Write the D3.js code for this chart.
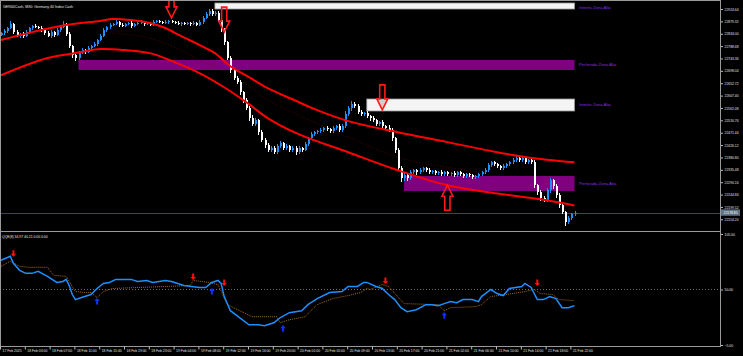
<!DOCTYPE html>
<html><head><meta charset="utf-8">
<script src="https://cdn.jsdelivr.net/npm/d3@7/dist/d3.min.js"></script>
<style>html,body{margin:0;padding:0;background:#000;overflow:hidden}svg{display:block}</style>
</head><body><svg id="c" width="743" height="356"></svg>
<script>
// ---------------- DATA ----------------
const chartTitle = "GER40Cash, M30:  Germany 40 Index Cash";
const qqeTitle = "QQE(8) 34.97 40.21 0.00 0.00";
const firstOpen = 22830;
const closes = [
22836,22844,22855,22870,22840,22826,22833,22826,22840,22855,
22862,22859,22855,22848,22837,22826,22840,22829,22848,22859,
22870,22833,22789,22756,22745,22767,22774,22767,22782,22789,
22796,22811,22826,22848,22859,22866,22870,22877,22866,22862,
22870,22873,22862,22870,22873,22877,22870,22873,22866,22877,
22881,22877,22873,22877,22881,22877,22873,22870,22873,22870,
22873,22870,22873,22866,22877,22892,22906,22917,22906,22910,
22884,22848,22804,22745,22701,22671,22657,22620,22591,22561,
22525,22503,22517,22473,22444,22426,22408,22415,22400,22422,
22433,22415,22422,22408,22415,22400,22415,22408,22429,22451,
22466,22473,22477,22481,22488,22484,22477,22488,22495,22481,
22495,22539,22561,22576,22569,22547,22539,22543,22532,22525,
22517,22503,22510,22495,22488,22481,22451,22408,22341,22304,
22315,22304,22326,22334,22326,22334,22341,22334,22326,22330,
22323,22326,22319,22326,22319,22323,22315,22326,22319,22312,
22319,22315,22308,22312,22319,22326,22334,22352,22363,22356,
22348,22341,22348,22356,22363,22370,22378,22370,22378,22363,
22370,22363,22279,22253,22231,22224,22260,22297,22275,22242,
22205,22180,22143,22158,22172,22178.85];
const upWick = [
6,8,5,9,4,7,5,6,8,4, 5,7,4,6,5,8,6,5,7,6, 9,5,6,4,8,5,7,4,6,5, 6,5,7,8,4,6,5,8,5,6,
4,5,6,4,5,6,4,5,4,6, 5,4,5,6,4,5,4,6,5,4, 5,4,6,5,6,7,9,8,6,7, 8,6,7,5,8,6,10,7,6,9,
7,10,8,6,9,7,8,6,9,7, 8,6,7,5,8,6,7,5,9,6, 7,6,5,7,6,8,5,7,6,8, 9,12,8,10,7,6,8,5,7,6,
8,6,5,7,6,10,7,6,9,8, 9,6,7,5,6,8,5,6,7,5, 6,5,7,4,6,5,7,6,5,6, 5,6,4,5,6,5,7,8,6,5,
6,5,7,6,5,8,9,6,7,5, 6,8,7,6,9,8,10,7,6,8, 7,9,6,10,7,6];
const dnWick = [
5,6,7,4,8,5,6,7,5,6, 6,4,5,7,6,5,8,6,5,7, 5,7,8,10,12,6,7,8,5,6, 5,6,4,5,7,6,5,4,6,5,
5,4,6,5,4,5,6,4,5,4, 4,5,4,5,6,4,5,4,6,5, 4,6,5,4,5,6,5,7,6,8, 7,9,10,8,9,7,8,10,9,8,
10,8,7,9,8,10,7,9,6,8, 7,6,8,7,6,9,7,6,5,7, 6,7,5,6,7,5,6,8,5,7, 8,7,6,9,8,7,6,8,7,9,
6,8,7,9,7,8,10,12,9,14, 8,9,7,6,8,7,6,5,7,6, 5,7,6,5,7,6,5,7,6,8, 6,5,7,6,5,7,6,5,6,7,
5,6,7,6,5,6,5,7,6,8, 7,6,9,8,10,8,7,9,8,10, 9,8,12,7,6,5];

// moving averages (bar index, price)
const maUpperBars = [0,10,21,32,36,42,48,53,58,64,69,74,80,86,94,102,112,128,144,160,170,185];
const maUpperVals = [22811,22840,22866,22881,22888,22884,22873,22855,22826,22793,22763,22715,22675,22635,22594,22554,22514,22473,22437,22400,22381,22363];
const maLowerBars = [0,15,26,32,40,48,56,64,72,80,86,96,112,128,144,160,176,185];
const maLowerVals = [22682,22745,22767,22778,22774,22763,22730,22690,22638,22576,22525,22466,22400,22334,22279,22249,22224,22205];
const maDotBars = [35,48,58,64,69,80,86,96,112,128,144,155];
const maDotVals = [22837,22818,22774,22737,22715,22642,22591,22536,22455,22381,22345,22326];

// zones
const zoneStart = [69,25,118,130];
const zoneEnd = [185,185,185,185];
const zoneTop = [22946.6,22737.8,22594.9,22312.8];
const zoneBottom = [22924.6,22701.2,22551.0,22257.9];
const zoneKind = ["interest","pierced","interest","pierced"];
const zoneLabel = ["Interés Zona Alta","Perforada Zona Alta","Interés Zona Alta","Perforada Zona Alta"];

// big arrows
const arrowBar = [55,72,123,144];
const arrowTip = [22892,22840,22555,22279];
const arrowDir = ["down","down","down","up"];

// axis labels
const priceTicks = ["22924.64","22879.32","22834.00","22788.68","22743.36","22698.04","22652.72","22607.40","22562.08","22516.76","22471.44","22426.12","22380.80","22335.48","22290.16","22244.84","22199.52","22154.20"];
const dateLabels = ["17 Feb 2025","18 Feb 03:00","18 Feb 07:00","18 Feb 11:00","18 Feb 15:00","18 Feb 19:00","18 Feb 23:00","19 Feb 04:00","19 Feb 08:00","19 Feb 12:00","19 Feb 16:00","19 Feb 20:00","20 Feb 01:00","20 Feb 05:00","20 Feb 09:00","20 Feb 13:00","20 Feb 17:00","20 Feb 21:00","21 Feb 02:00","21 Feb 06:00","21 Feb 10:00","21 Feb 14:00","21 Feb 18:00","21 Feb 22:00"];
const dateBars = dateLabels.map((d,i)=>i*8);
const qqeTicks = [105, 50, -5];

// QQE indicator
const qqeFastBars = [0,3,4,6,8,10,12,15,18,20,21,22,23,24,26,29,31,33,35,37,40,42,44,47,49,53,55,59,64,66,68,70,71,72,74,80,83,85,88,90,93,97,99,102,106,110,112,115,117,118,121,123,125,127,129,131,134,137,139,141,143,145,147,149,152,154,155,158,160,162,164,168,169,171,173,175,177,179,181,183,185];
const qqeFastVals = [79,83,76,69,66,66,68,63,57,58,60,54,45,40,42,45,51,56,57,60,60,60,58,59,57,59,58,54,52,52,57,59,56,43,29,15,15,14,17,22,27,29,35,41,47,48,53,53,57,57,53,51,45,40,32,28,30,35,35,34,36,38,37,40,40,38,43,50,46,44,51,53,56,52,40,40,43,41,32,32,34];
const qqeSlowBars = [0,3,6,9,15,17,21,24,27,29,31,33,36,53,61,62,67,70,73,81,89,90,93,98,102,107,112,116,118,119,123,125,130,141,143,145,153,155,158,163,169,172,174,178,180,185];
const qqeSlowVals = [73,78,73,72,72,64,63,48,47,47,42,48,51,53,54,59,57,55,35,23,23,17,20,23,35,41,44,47,51,50,55,53,36,35,29,32,33,35,43,45,48,50,46,45,40,39];
const qqeSellBars = [4,62,72,124,173];
const qqeSellVals = [86,63,57,59,57];
const qqeBuyBars = [31,68,91,143];
const qqeBuyVals = [38,48,11,24];

// ---------------- DRAW ----------------
const svg = d3.select("#c");
svg.append("rect").attr("width",743).attr("height",356).attr("fill","#000");
const FONT = "'Liberation Sans', Arial, sans-serif";
const FS = 3.4;

const x = d3.scaleLinear().domain([0,185]).range([1,574.5]);
const y = d3.scaleLinear().domain([22154.20,22924.64]).range([219.3,9]);
const yq = d3.scaleLinear().domain([-5,105]).range([345,234]);

const main = svg.append("g");
main.append("defs").append("clipPath").attr("id","mclip")
  .append("rect").attr("x",0).attr("y",1).attr("width",720).attr("height",229);
const mg = main.append("g").attr("clip-path","url(#mclip)");

// current price line
const last = closes[closes.length-1];
mg.append("line").attr("x1",0).attr("x2",720).attr("y1",Math.round(y(last))+0.5).attr("y2",Math.round(y(last))+0.5)
  .attr("stroke","#3a4654").attr("stroke-width",1);

// zones
zoneStart.forEach((s,i)=>{
  const isW = zoneKind[i]==="interest";
  mg.append("rect").attr("x",x(s)).attr("width",x(zoneEnd[i])-x(s))
    .attr("y",y(zoneTop[i])).attr("height",y(zoneBottom[i])-y(zoneTop[i]))
    .attr("fill",isW?"#f4f4f4":"#800080")
    .attr("stroke",isW?"#9a9a9a":"none").attr("stroke-width",0.8);
  mg.append("text").attr("x",x(zoneEnd[i])+4.5).attr("y",(y(zoneTop[i])+y(zoneBottom[i]))/2 + (i===0?2:0))
    .attr("dy","0.35em").attr("font-family",FONT).attr("font-size",4.2).attr("fill","#8a2be2").text(zoneLabel[i]);
});

// moving averages
const lineGen = (bars,vals)=>d3.line().x((d,i)=>x(bars[i])).y(d=>y(d)).curve(d3.curveCatmullRom)(vals);
mg.append("path").attr("d",lineGen(maDotBars,maDotVals)).attr("fill","none").attr("stroke","#6e0000").attr("stroke-width",0.8).attr("stroke-dasharray","1,2");

// candles
const opens = closes.map((c,i)=> i===0?firstOpen:closes[i-1]);
const cg = mg.append("g").attr("shape-rendering","crispEdges");
closes.forEach((c,i)=>{
  const o = opens[i];
  const up = c>=o;
  const col = up ? "#1e90ff" : "#ffffff";
  const hi = Math.max(o,c)+upWick[i], lo = Math.min(o,c)-dnWick[i];
  const cx = Math.round(x(i));
  cg.append("line").attr("x1",cx+0.5).attr("x2",cx+0.5).attr("y1",y(hi)).attr("y2",y(lo)).attr("stroke",col).attr("stroke-width",1);
  const top = y(Math.max(o,c)), bot = y(Math.min(o,c));
  cg.append("rect").attr("x",cx-0.5).attr("width",2).attr("y",top).attr("height",Math.max(1,bot-top)).attr("fill",col);
});

mg.append("path").attr("d",lineGen(maUpperBars,maUpperVals)).attr("fill","none").attr("stroke","#ff0000").attr("stroke-width",2);
mg.append("path").attr("d",lineGen(maLowerBars,maLowerVals)).attr("fill","none").attr("stroke","#ff0000").attr("stroke-width",2);

// big arrows
arrowBar.forEach((b,i)=>{
  const ax = x(b), ay = y(arrowTip[i]);
  const s = arrowDir[i]==="down" ? -1 : 1;
  const hw = 5.5, sw = 2.6, hl = 11, L = 25;
  const p = [[ax,ay],[ax+hw,ay+s*hl],[ax+sw,ay+s*hl],[ax+sw,ay+s*L],[ax-sw,ay+s*L],[ax-sw,ay+s*hl],[ax-hw,ay+s*hl]];
  mg.append("path").attr("d","M"+p.map(q=>q.join(",")).join("L")+"Z")
    .attr("fill","#000").attr("fill-opacity",0.15).attr("stroke","#ff1a1a").attr("stroke-width",1.6).attr("stroke-linejoin","miter");
});

// title
svg.append("text").attr("x",3).attr("y",7.5).attr("font-family",FONT).attr("font-size",3.6).attr("fill","#e8e8e8").text(chartTitle);

// price axis
const pAxis = svg.append("g").attr("transform","translate(720.5,0)")
  .call(d3.axisRight(y).tickValues(priceTicks.map(Number)).tickFormat((d,i)=>priceTicks[i]).tickSize(2.5).tickPadding(1.5));
pAxis.select(".domain").remove();
pAxis.selectAll("line").attr("stroke","#bbbbbb");
pAxis.selectAll("text").attr("font-family",FONT).attr("font-size",FS).attr("fill","#e0e0e0");
// current price tag
const ly = y(last);
svg.append("rect").attr("x",721).attr("y",ly-3.2).attr("width",19).attr("height",6.4).attr("fill","#5d7287");
svg.append("text").attr("x",723.5).attr("y",ly).attr("dy","0.35em").attr("font-family",FONT).attr("font-size",FS).attr("fill","#ffffff").text(last.toFixed(2));

// ---------- indicator panel ----------
const ig = svg.append("g");
ig.append("line").attr("x1",0).attr("x2",720).attr("y1",yq(50)).attr("y2",yq(50)).attr("stroke","#9a9a9a").attr("stroke-width",0.7).attr("stroke-dasharray","1,2");
const qLine = (bars,vals)=>d3.line().x((d,i)=>x(bars[i])).y(d=>yq(d))(vals);
ig.append("path").attr("d",qLine(qqeSlowBars,qqeSlowVals)).attr("fill","none").attr("stroke","#a86a14").attr("stroke-width",1).attr("stroke-dasharray","1,1");
ig.append("path").attr("d",qLine(qqeFastBars,qqeFastVals)).attr("fill","none").attr("stroke","#1e8fff").attr("stroke-width",1.5);
const smallArrow = (bx,by,dir,col)=>{
  const s = dir==="down"?1:-1;
  const p=[[bx,by+s*3.5],[bx+2.8,by+s*0.6],[bx+1,by+s*0.6],[bx+1,by-s*3],[bx-1,by-s*3],[bx-1,by+s*0.6],[bx-2.8,by+s*0.6]];
  ig.append("path").attr("d","M"+p.map(q=>q.join(",")).join("L")+"Z").attr("fill",col);
};
qqeSellBars.forEach((b,i)=>smallArrow(x(b),yq(qqeSellVals[i]),"down","#ff1010"));
qqeBuyBars.forEach((b,i)=>smallArrow(x(b),yq(qqeBuyVals[i]),"up","#1030ff"));
svg.append("text").attr("x",2).attr("y",237.5).attr("font-family",FONT).attr("font-size",FS).attr("fill","#e8e8e8").text(qqeTitle);

const qAxis = svg.append("g").attr("transform","translate(720.5,0)")
  .call(d3.axisRight(yq).tickValues(qqeTicks).tickFormat(d3.format(".2f")).tickSize(2.5).tickPadding(1.5));
qAxis.select(".domain").remove();
qAxis.selectAll("line").attr("stroke","#bbbbbb");
qAxis.selectAll("text").attr("font-family",FONT).attr("font-size",FS).attr("fill","#e0e0e0");

// frames
const fr = svg.append("g").attr("stroke","#9a9a9a").attr("stroke-width",1).attr("shape-rendering","crispEdges");
fr.append("line").attr("x1",0).attr("x2",721).attr("y1",0.5).attr("y2",0.5);
fr.append("line").attr("x1",0.5).attr("x2",0.5).attr("y1",0).attr("y2",347);
fr.append("line").attr("x1",720.5).attr("x2",720.5).attr("y1",0).attr("y2",347);
fr.append("line").attr("x1",0).attr("x2",721).attr("y1",231.5).attr("y2",231.5);
fr.append("line").attr("x1",0).attr("x2",721).attr("y1",346.5).attr("y2",346.5);

// date axis
const dAxis = svg.append("g").attr("transform","translate(0,346.5)")
  .call(d3.axisBottom(x).tickValues(dateBars).tickFormat((d,i)=>dateLabels[i]).tickSize(3).tickPadding(0.5));
dAxis.select(".domain").remove();
dAxis.selectAll("line").attr("stroke","#bbbbbb").attr("transform","translate(-1,0)");
dAxis.selectAll("text").attr("font-family",FONT).attr("font-size",FS).attr("fill","#e0e0e0").attr("text-anchor","start").attr("dx",1);
</script>
</body></html>
